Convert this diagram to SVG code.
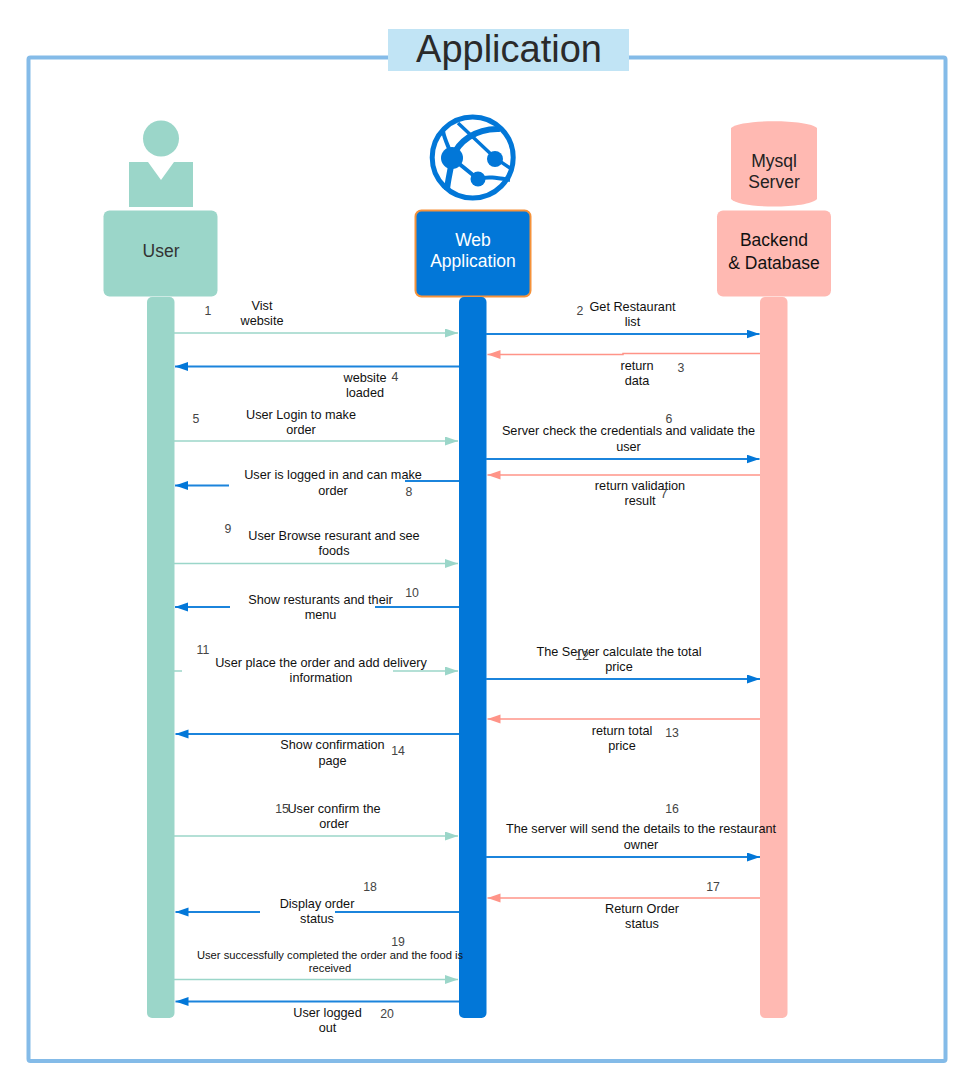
<svg xmlns="http://www.w3.org/2000/svg" width="977" height="1091" viewBox="0 0 977 1091">
<style>
text{font-family:"Liberation Sans",Arial,sans-serif;text-anchor:middle}
.l{font-size:12.700px;fill:#111}
.n{font-size:12.300px;fill:#444}
.h{font-size:17.500px;fill:#333}
.g{stroke:#9bd6c9;stroke-width:1.500;fill:none}
.b{stroke:#1b84dc;stroke-width:2;fill:none}
.r{stroke:#ff9488;stroke-width:1.500;fill:none}
</style>
<defs>
<marker id="ag" markerUnits="userSpaceOnUse" markerWidth="14" markerHeight="10" refX="13" refY="4.500" orient="auto"><path d="M0 0L13 4.500L0 9Z" fill="#9bd6c9"/></marker>
<marker id="ab" markerUnits="userSpaceOnUse" markerWidth="14" markerHeight="10" refX="13" refY="4.500" orient="auto"><path d="M0 0L13 4.500L0 9Z" fill="#0277d8"/></marker>
<marker id="ar" markerUnits="userSpaceOnUse" markerWidth="14" markerHeight="10" refX="13" refY="4.500" orient="auto"><path d="M0 0L13 4.500L0 9Z" fill="#ff9488"/></marker>
</defs>
<rect width="977" height="1091" fill="#fff"/>
<g id="frame"><rect x="28.500" y="57.500" width="917" height="1003.500" rx="2" fill="none" stroke="#84bbe8" stroke-width="4"/></g>
<g id="title"><rect x="388" y="29" width="241" height="42" fill="#c1e4f5"/><text x="509" y="62" font-size="38" fill="#2a2a2a">Application</text></g>
<g id="user-icon"><circle cx="161" cy="138.500" r="18" fill="#9bd6c9"/><path d="M129 162H148L161 180L174 162H193V207H129Z" fill="#9bd6c9"/></g>
<g id="web-icon" fill="none" stroke="#0277d8">
<circle cx="472.700" cy="157.500" r="40.500" stroke-width="5"/>
<path d="M458 123L495 158L510 168" stroke-width="3.500"/>
<path d="M452 158C458 142 475 128 500 129" stroke-width="6"/>
<path d="M452 158C450 148 445 142 443 131" stroke-width="4"/>
<path d="M452 158L478 179C488 176 498 178 510 180" stroke-width="4"/>
<path d="M452 158C451 170 448 178 447 190" stroke-width="6"/>
<circle cx="452" cy="158" r="11" fill="#0277d8" stroke="none"/><circle cx="495" cy="159" r="8" fill="#0277d8" stroke="none"/><circle cx="478" cy="179" r="7.500" fill="#0277d8" stroke="none"/>
</g>
<g id="db-icon"><path d="M731 128C740 119 808 119 817 128V199C808 209 740 209 731 199Z" fill="#ffb9b2"/><text x="774" y="167" font-size="17.500" fill="#222">Mysql</text><text x="774" y="187.500" font-size="17.500" fill="#222">Server</text></g>
<g id="user"><rect x="103.500" y="210.500" width="114" height="86" rx="6" fill="#9bd6c9"/><text class="h" x="161" y="257">User</text></g>
<g id="web"><rect x="415.500" y="210.500" width="115" height="86" rx="6" fill="#0277d8" stroke="#f5923a" stroke-width="2"/><text x="473" y="246" font-size="17.500" fill="#fff">Web</text><text x="473" y="267" font-size="17.500" fill="#fff">Application</text></g>
<g id="backend"><rect x="717" y="210.500" width="114" height="86" rx="6" fill="#ffb9b2"/><text x="774" y="245.500" font-size="17.500" fill="#111">Backend</text><text x="774" y="269" font-size="17.500" fill="#111">&amp; Database</text></g>
<g id="lifelines"><rect x="147" y="297" width="27.500" height="721" rx="5" fill="#9bd6c9"/><rect x="459" y="297" width="27.500" height="721" rx="5" fill="#0277d8"/><rect x="760" y="297" width="27.500" height="721" rx="5" fill="#ffb9b2"/></g>
<g id="connectors">
<path class="g" d="M174 333H458" marker-end="url(#ag)"/>
<path class="b" d="M486 334H759.500" marker-end="url(#ab)"/>
<path class="r" d="M760 353.500H623V354.500H487.500" marker-end="url(#ar)"/>
<path class="b" d="M459 366.500H175" marker-end="url(#ab)"/>
<path class="g" d="M174 441H458" marker-end="url(#ag)"/>
<path class="b" d="M486 459H759.500" marker-end="url(#ab)"/>
<path class="r" d="M760 475H487.500" marker-end="url(#ar)"/>
<path class="b" d="M459 481H405"/>
<path class="b" d="M229 485.500H175" marker-end="url(#ab)"/>
<path class="g" d="M174 563.500H458" marker-end="url(#ag)"/>
<path class="b" d="M459 607H375"/>
<path class="b" d="M230 607H175" marker-end="url(#ab)"/>
<path class="g" d="M174 671H182"/>
<path class="g" d="M393 671H458" marker-end="url(#ag)"/>
<path class="b" d="M486 679H760" marker-end="url(#ab)"/>
<path class="r" d="M760 719H487.500" marker-end="url(#ar)"/>
<path class="b" d="M459 734H175.500" marker-end="url(#ab)"/>
<path class="g" d="M174 836H458" marker-end="url(#ag)"/>
<path class="b" d="M486 857H760" marker-end="url(#ab)"/>
<path class="r" d="M760 898H487.500" marker-end="url(#ar)"/>
<path class="b" d="M459 912H335"/>
<path class="b" d="M260 912H175.500" marker-end="url(#ab)"/>
<path class="g" d="M174 979.500H458" marker-end="url(#ag)"/>
<path class="b" d="M459 1001.500H175.500" marker-end="url(#ab)"/>
</g>
<g id="labels">
<text class="n" x="208" y="315">1</text>
<text class="l" x="262" y="310">Vist</text><text class="l" x="262" y="325">website</text>
<text class="n" x="580" y="315">2</text>
<text class="l" x="632.500" y="311">Get Restaurant</text><text class="l" x="632.500" y="326">list</text>
<text class="l" x="637" y="370">return</text><text class="l" x="637" y="385">data</text>
<text class="n" x="681" y="372">3</text>
<text class="l" x="365" y="382">website</text><text class="l" x="365" y="397">loaded</text>
<text class="n" x="395" y="381">4</text>
<text class="n" x="196" y="423">5</text>
<text class="l" x="301" y="419">User Login to make</text><text class="l" x="301" y="434">order</text>
<text class="n" x="669" y="423">6</text>
<text class="l" x="628.500" y="435">Server check the credentials and validate the</text><text class="l" x="628.500" y="451">user</text>
<text class="l" x="640" y="490">return validation</text><text class="l" x="640" y="505">result</text>
<text class="n" x="664" y="498">7</text>
<text class="l" x="333" y="479">User is logged in and can make</text><text class="l" x="333" y="495">order</text>
<text class="n" x="409" y="496">8</text>
<text class="n" x="228" y="533">9</text>
<text class="l" x="334" y="540">User Browse resurant and see</text><text class="l" x="334" y="555">foods</text>
<text class="n" x="412" y="597">10</text>
<text class="l" x="320.500" y="604">Show resturants and their</text><text class="l" x="320.500" y="619">menu</text>
<text class="n" x="203" y="654">11</text>
<text class="l" x="321" y="667">User place the order and add delivery</text><text class="l" x="321" y="682">information</text>
<text class="l" x="619" y="656">The Server calculate the total</text><text class="l" x="619" y="671">price</text>
<text class="n" x="582" y="660">12</text>
<text class="l" x="622" y="735">return total</text><text class="l" x="622" y="750">price</text>
<text class="n" x="672" y="737">13</text>
<text class="l" x="332.500" y="749">Show confirmation</text><text class="l" x="332.500" y="765">page</text>
<text class="n" x="398" y="755">14</text>
<text class="n" x="282" y="813">15</text>
<text class="l" x="334" y="813">User confirm the</text><text class="l" x="334" y="828">order</text>
<text class="n" x="672" y="813">16</text>
<text class="l" x="641" y="833">The server will send the details to the restaurant</text><text class="l" x="641" y="849">owner</text>
<text class="n" x="713" y="891">17</text>
<text class="l" x="642" y="913">Return Order</text><text class="l" x="642" y="928">status</text>
<text class="n" x="370" y="891">18</text>
<text class="l" x="317" y="908">Display order</text><text class="l" x="317" y="923">status</text>
<text class="n" x="398" y="946">19</text>
<text x="330" y="959" font-size="11.200" fill="#111">User successfully completed the order and the food is</text><text x="330" y="972" font-size="11.200" fill="#111">received</text>
<text class="l" x="327.500" y="1017">User logged</text><text class="l" x="327.500" y="1032">out</text>
<text class="n" x="387" y="1018">20</text>
</g>
</svg>
